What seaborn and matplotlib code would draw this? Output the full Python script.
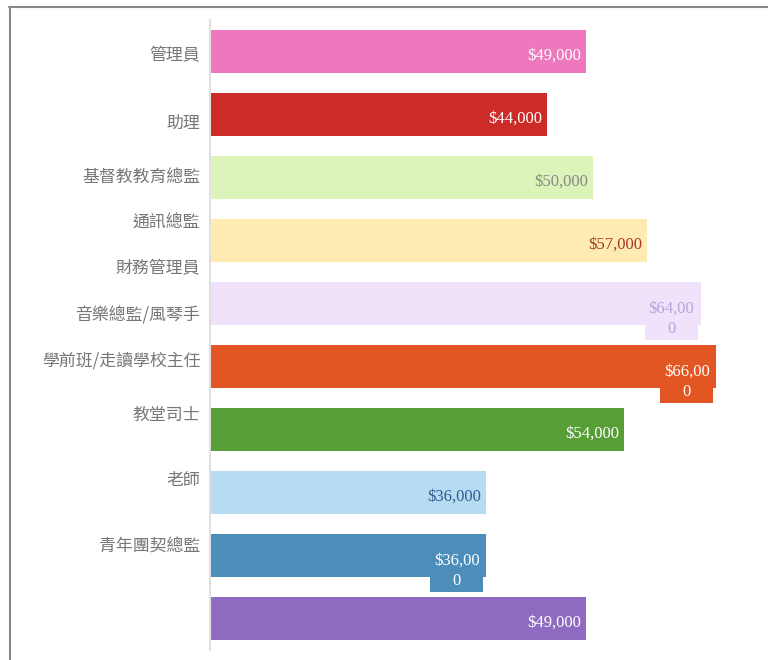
import matplotlib
matplotlib.use("Agg")
import matplotlib.pyplot as plt
from matplotlib.lines import Line2D
import seaborn as sns
import pandas as pd

# ---- data ----
categories = ["管理員", "助理", "基督教教育總監", "通訊總監", "財務管理員",
              "音樂總監/風琴手", "學前班/走讀學校主任", "教堂司士", "老師", "青年團契總監"]
salaries = [49000, 44000, 50000, 57000, 64000, 66000, 54000, 36000, 36000, 49000]
bar_colors = ["#EE77BE", "#CB2C27", "#DCF3B9", "#FDEBB1", "#F1E2FB",
              "#E15623", "#569E35", "#B7DBF3", "#4C8DBA", "#8E6BC0"]
value_text_colors = ["#FFFFFF", "#FFFFFF", "#888888", "#A8372A", "#B9A3DD",
                     "#FFFFFF", "#FFFFFF", "#2E5E8E", "#FFFFFF", "#FFFFFF"]
wrapped = [4, 5, 8]
# tick label positions (category units) as they appear in the reference
tick_positions = [0.02, 1.10, 1.96, 2.68, 3.40, 4.15, 4.87, 5.74, 6.77, 7.83]

df = pd.DataFrame({"category": [f"c{i}" for i in range(len(categories))],
                   "salary": salaries})

sns.set_theme(style="white")
plt.rcParams["font.family"] = ["Noto Sans CJK TC", "DejaVu Sans"]

fig = plt.figure(figsize=(7.68, 6.6), dpi=100)
ax = fig.add_axes([210 / 768, 10 / 660, 552 / 768, 630 / 660])

sns.barplot(data=df, x="salary", y="category", hue="category",
            palette=bar_colors, legend=False, width=0.69, orient="h",
            ax=ax, saturation=1, edgecolor="none")

ax.set_xlim(0, 72000)
ax.set_ylim(len(categories) - 0.5, -0.5)
ax.set_xlabel("")
ax.set_ylabel("")
ax.set_xticks([])
ax.set_yticks(tick_positions)
ax.set_yticklabels(categories, color="#777777", fontsize=12.2)
ax.tick_params(axis="y", length=0, pad=7)

for s in ["top", "right", "bottom"]:
    ax.spines[s].set_visible(False)
ax.spines["left"].set_color("#E0E0E0")
ax.spines["left"].set_linewidth(1.5)

for i, v in enumerate(salaries):
    txt = f"${v:,}"
    if i in wrapped:
        txt = txt[:-1] + "\n" + txt[-1]
        ax.annotate(txt, xy=(v, i), xytext=(-21, -11), textcoords="offset points",
                    ha="center", va="center", multialignment="center",
                    color=value_text_colors[i], fontsize=12,
                    family="Liberation Serif", linespacing=1.3,
                    bbox=dict(boxstyle="square,pad=0.22", fc=bar_colors[i], ec="none"))
    else:
        ax.annotate(txt, xy=(v, i), xytext=(-3.6, -3), textcoords="offset points",
                    ha="right", va="center", color=value_text_colors[i],
                    fontsize=12, family="Liberation Serif")

# figure frame (top and left edge)
fig.add_artist(Line2D([9 / 768, 1.0], [1 - 6.5 / 660, 1 - 6.5 / 660],
                      transform=fig.transFigure, color="#888888", lw=1.5))
fig.add_artist(Line2D([9.5 / 768, 9.5 / 768], [0, 1 - 6.5 / 660],
                      transform=fig.transFigure, color="#888888", lw=1.5))

fig.savefig("out.png", dpi=100)
